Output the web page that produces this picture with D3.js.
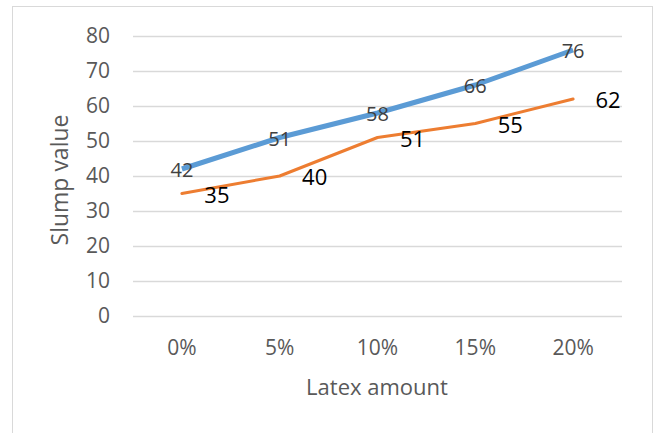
<!DOCTYPE html>
<html>
<head>
<meta charset="utf-8">
<script src="https://cdn.jsdelivr.net/npm/d3@7/dist/d3.min.js"></script>
<style>
  html, body { margin: 0; padding: 0; background: #fff; }
  svg { display: block; font-family: "Open Sans", Lato, sans-serif; }
</style>
</head>
<body>
<svg id="chart" width="656" height="433"></svg>
<script>
// Slump value against latex amount
const categories = ["0%", "5%", "10%", "15%", "20%"];
const seriesA = [42, 51, 58, 66, 76];   // blue line
const seriesB = [35, 40, 51, 55, 62];   // orange line
const yTicks = [0, 10, 20, 30, 40, 50, 60, 70, 80];

const FONT = "'Open Sans', Lato, sans-serif";
const svg = d3.select("#chart");
const plot = { left: 133, right: 622, top: 36, bottom: 316 };

// chart frame
svg.append("rect")
  .attr("x", 12.5).attr("y", 6.5)
  .attr("width", 640).attr("height", 440)
  .attr("fill", "#fff").attr("stroke", "#d9d9d9").attr("stroke-width", 1);

const x = d3.scaleBand().domain(categories).range([plot.left, plot.right]);
const y = d3.scaleLinear().domain([0, 80]).range([plot.bottom, plot.top]);
const cx = c => x(c) + x.bandwidth() / 2;

// horizontal gridlines
svg.append("g")
  .selectAll("line")
  .data(yTicks)
  .join("line")
  .attr("x1", plot.left).attr("x2", plot.right)
  .attr("y1", d => Math.round(y(d)) + 0.5).attr("y2", d => Math.round(y(d)) + 0.5)
  .attr("stroke", "#d9d9d9").attr("stroke-width", 1.3);

// y axis labels
const yAxis = svg.append("g")
  .attr("transform", `translate(${plot.left - 23},0)`)
  .call(d3.axisLeft(y).tickValues(yTicks).tickSize(0).tickPadding(0));
yAxis.select(".domain").remove();
yAxis.selectAll("text")
  .attr("fill", "#595959").attr("font-size", 21)
  .attr("font-family", FONT);

// x axis labels
const xAxis = svg.append("g")
  .attr("transform", `translate(0,${plot.bottom + 24})`)
  .call(d3.axisBottom(x).tickSize(0).tickPadding(0));
xAxis.select(".domain").remove();
xAxis.selectAll("text")
  .attr("fill", "#595959").attr("font-size", 21)
  .attr("font-family", FONT);

// axis titles
svg.append("text")
  .attr("x", 377).attr("y", 395)
  .attr("text-anchor", "middle")
  .attr("fill", "#595959").attr("font-size", 22)
  .text("Latex amount");

svg.append("text")
  .attr("transform", "translate(68,180) rotate(-90)")
  .attr("text-anchor", "middle")
  .attr("fill", "#595959").attr("font-size", 23)
  .text("Slump value");

const line = d3.line().x((d, i) => cx(categories[i])).y(d => y(d));

// orange series
svg.append("path")
  .datum(seriesB)
  .attr("d", line)
  .attr("fill", "none").attr("stroke", "#ED7D31")
  .attr("stroke-width", 3).attr("stroke-linejoin", "round").attr("stroke-linecap", "round");

// blue series
svg.append("path")
  .datum(seriesA)
  .attr("d", line)
  .attr("fill", "none").attr("stroke", "#5B9BD5")
  .attr("stroke-width", 5).attr("stroke-linejoin", "round");

// labels for the blue series sit on the points
svg.append("g")
  .selectAll("text")
  .data(seriesA)
  .join("text")
  .attr("x", (d, i) => cx(categories[i]))
  .attr("y", d => y(d) + 1)
  .attr("dy", "0.36em")
  .attr("text-anchor", "middle")
  .attr("fill", "#404040").attr("font-size", 20)
  .text(d => d);

// labels for the orange series sit to the right of the points
svg.append("g")
  .selectAll("text")
  .data(seriesB)
  .join("text")
  .attr("x", (d, i) => cx(categories[i]) + 35)
  .attr("y", d => y(d) + 1.5)
  .attr("dy", "0.36em")
  .attr("text-anchor", "middle")
  .attr("fill", "#000").attr("font-size", 22)
  .text(d => d);
</script>
</body>
</html>
